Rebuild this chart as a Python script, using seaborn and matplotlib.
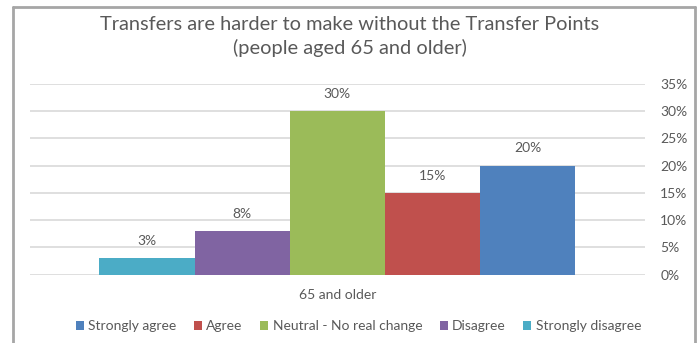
import matplotlib
matplotlib.use("Agg")
import matplotlib.pyplot as plt
from matplotlib.patches import Rectangle
from matplotlib.ticker import FuncFormatter
import seaborn as sns
import pandas as pd

# Survey responses for one age group
group = "65 and older"
responses = ["Strongly disagree", "Disagree", "Neutral - No real change", "Agree", "Strongly agree"]
percentages = [3, 8, 30, 15, 20]
bar_colors = ["#4BACC6", "#8064A2", "#9BBB59", "#C0504D", "#4F81BD"]
y_ticks = [0, 5, 10, 15, 20, 25, 30, 35]
title = "Transfers are harder to make without the Transfer Points\n(people aged 65 and older)"

df = pd.DataFrame({"group": [group] * len(responses),
                   "response": responses,
                   "pct": percentages})

sns.set_theme(style="white")
plt.rcParams["font.family"] = ["Lato", "DejaVu Sans"]
text_color = "#595959"
small = 10

fig = plt.figure(figsize=(7.0, 3.43), dpi=100)
ax = fig.add_axes([29.5 / 700, (343 - 274.7) / 343, (645 - 29.5) / 700, (274.7 - 83.7) / 343])

sns.barplot(data=df, x="group", y="pct", hue="response", hue_order=responses,
            palette=bar_colors, width=0.773, gap=0, saturation=1,
            edgecolor="none", linewidth=0, ax=ax, legend=False, zorder=3)

ax.set_ylim(0, 35)
ax.set_xlim(-0.5, 0.5)
ax.set_yticks(y_ticks)
ax.yaxis.set_major_formatter(FuncFormatter(lambda v, _: f"{v:.0f}%"))
ax.yaxis.tick_right()
ax.tick_params(axis="y", length=0, pad=11, labelsize=small, labelcolor=text_color)
ax.tick_params(axis="x", length=0, pad=10, labelsize=small, labelcolor=text_color)
ax.set_xlabel("")
ax.set_ylabel("")
ax.grid(axis="y", color="#D9D9D9", linewidth=1.2, zorder=0)
for s in ax.spines.values():
    s.set_visible(False)

# value labels above each bar
for container in ax.containers:
    ax.bar_label(container, labels=[f"{v:.0f}%" for v in container.datavalues],
                 padding=8, fontsize=small, color=text_color)

fig.text(0.5, (343 - 36.5) / 343, title, ha="center", va="center",
         fontsize=14.4, color=text_color, linespacing=1.4)

# legend in reverse order of the bars
handles = [Rectangle((0, 0), 1, 1, facecolor=c, edgecolor="none") for c in bar_colors][::-1]
fig.legend(handles, responses[::-1], loc="center", bbox_to_anchor=(0.512, (343 - 326) / 343),
           ncol=5, frameon=False, fontsize=small, labelcolor=text_color,
           handlelength=0.6, handleheight=0.6, handletextpad=0.3, columnspacing=1.25)

# outer chart frame (open at the bottom)
frame_kw = dict(color="#A6A6A6", linewidth=2, transform=fig.transFigure, clip_on=False)
x0, x1, ytop = 13 / 700, 695 / 700, 1 - 7 / 343
fig.add_artist(plt.Line2D([x0, x0], [0, ytop], **frame_kw))
fig.add_artist(plt.Line2D([x1, x1], [0, ytop], **frame_kw))
fig.add_artist(plt.Line2D([x0, x1], [ytop, ytop], **frame_kw))

fig.savefig("out.png", dpi=100, facecolor="white")
